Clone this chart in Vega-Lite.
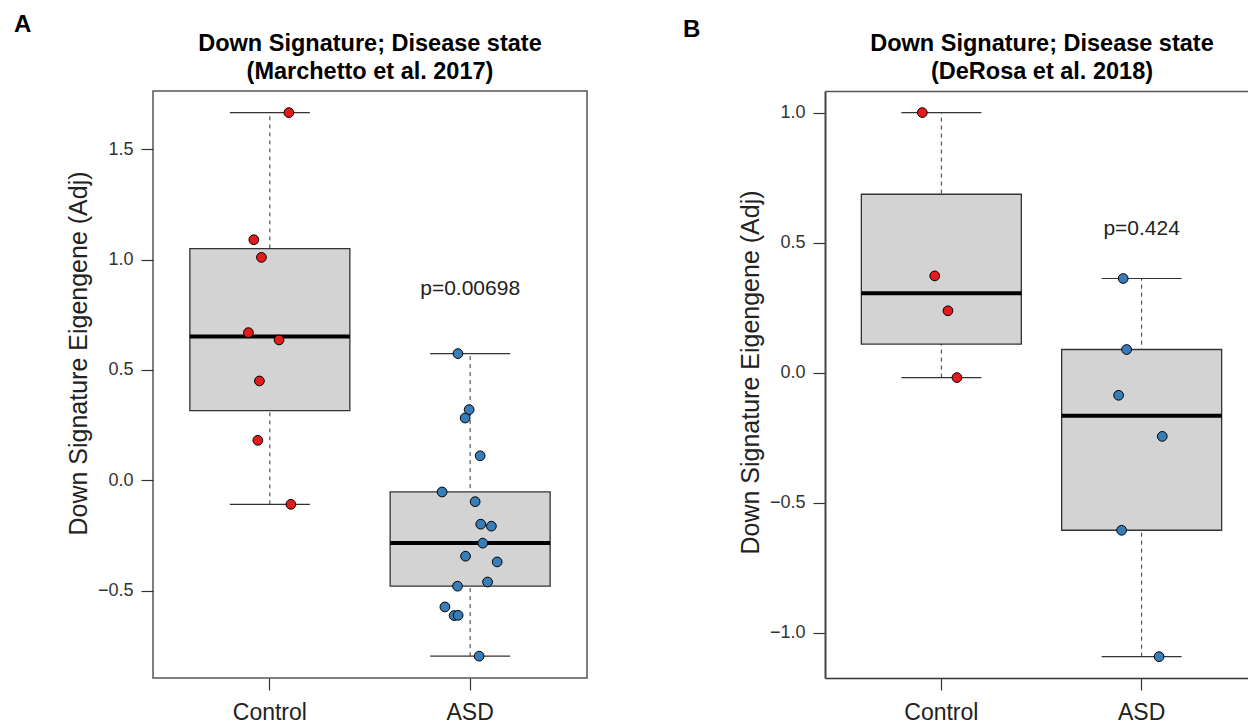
{
  "$schema": "https://vega.github.io/schema/vega-lite/v6.json",
  "background": "white",
  "padding": {"left": 14, "top": 12, "right": 0, "bottom": 0},
  "config": {
    "font": "Liberation Sans",
    "view": {"stroke": "#555", "strokeWidth": 1.5},
    "axis": {"grid": false, "labelFont": "Liberation Sans", "titleFont": "Liberation Sans", "labelColor": "#333", "titleColor": "#222", "tickColor": "#333", "domainColor": "#333", "titleFontWeight": "normal"},
    "title": {"font": "Liberation Sans", "fontWeight": "bold", "color": "#000"}
  },
  "datasets": {
    "a_pts": [
      {"group": "Control", "value": 1.666, "jitter": 0.095},
      {"group": "Control", "value": 1.090, "jitter": -0.080},
      {"group": "Control", "value": 1.010, "jitter": -0.042},
      {"group": "Control", "value": 0.669, "jitter": -0.107},
      {"group": "Control", "value": 0.636, "jitter": 0.046},
      {"group": "Control", "value": 0.450, "jitter": -0.052},
      {"group": "Control", "value": 0.181, "jitter": -0.060},
      {"group": "Control", "value": -0.109, "jitter": 0.105},
      {"group": "ASD", "value": 0.574, "jitter": -0.061},
      {"group": "ASD", "value": 0.320, "jitter": -0.005},
      {"group": "ASD", "value": 0.282, "jitter": -0.025},
      {"group": "ASD", "value": 0.111, "jitter": 0.050},
      {"group": "ASD", "value": -0.053, "jitter": -0.140},
      {"group": "ASD", "value": -0.097, "jitter": 0.025},
      {"group": "ASD", "value": -0.199, "jitter": 0.053},
      {"group": "ASD", "value": -0.208, "jitter": 0.106},
      {"group": "ASD", "value": -0.285, "jitter": 0.063},
      {"group": "ASD", "value": -0.344, "jitter": -0.023},
      {"group": "ASD", "value": -0.370, "jitter": 0.135},
      {"group": "ASD", "value": -0.461, "jitter": 0.087},
      {"group": "ASD", "value": -0.480, "jitter": -0.063},
      {"group": "ASD", "value": -0.574, "jitter": -0.126},
      {"group": "ASD", "value": -0.613, "jitter": -0.080},
      {"group": "ASD", "value": -0.612, "jitter": -0.060},
      {"group": "ASD", "value": -0.797, "jitter": 0.045}
    ],
    "a_box": [
      {"group": "Control", "lower": -0.109, "q1": 0.316, "median": 0.652, "q3": 1.05, "upper": 1.666},
      {"group": "ASD", "lower": -0.797, "q1": -0.480, "median": -0.284, "q3": -0.053, "upper": 0.574}
    ],
    "a_p": [{"group": "ASD", "value": 0.867, "label": "p=0.00698"}],
    "b_pts": [
      {"group": "Control", "value": 1.0, "jitter": -0.095},
      {"group": "Control", "value": 0.372, "jitter": -0.033},
      {"group": "Control", "value": 0.238, "jitter": 0.033},
      {"group": "Control", "value": -0.019, "jitter": 0.078},
      {"group": "ASD", "value": 0.362, "jitter": -0.092},
      {"group": "ASD", "value": 0.089, "jitter": -0.075},
      {"group": "ASD", "value": -0.087, "jitter": -0.115},
      {"group": "ASD", "value": -0.245, "jitter": 0.103},
      {"group": "ASD", "value": -0.606, "jitter": -0.100},
      {"group": "ASD", "value": -1.092, "jitter": 0.087}
    ],
    "b_box": [
      {"group": "Control", "lower": -0.019, "q1": 0.11, "median": 0.305, "q3": 0.686, "upper": 1.0},
      {"group": "ASD", "lower": -1.092, "q1": -0.606, "median": -0.166, "q3": 0.089, "upper": 0.362}
    ],
    "b_p": [{"group": "ASD", "value": 0.551, "label": "p=0.424"}]
  },
  "columns": 2,
  "align": "none",
  "spacing": 95,
  "concat": [
    {
      "title": {"text": "A", "anchor": "start", "frame": "group", "fontSize": 24, "offset": 0, "dx": -139, "dy": 6},
      "vconcat": [
        {
          "width": 434,
          "height": 587,
          "title": {"text": ["Down Signature; Disease state", "(Marchetto et al. 2017)"], "fontSize": 23.5, "lineHeight": 28, "frame": "group", "anchor": "middle", "offset": 12, "dy": 4},
          "encoding": {
            "x": {"field": "group", "type": "nominal", "title": null,
              "scale": {"domain": ["Control", "ASD"], "paddingInner": 0.2, "paddingOuter": 0.1834},
              "axis": {"title": null, "labelAngle": 0, "labelFontSize": 23, "labelPadding": 11, "tickSize": 12, "tickWidth": 1.2, "domain": false, "bandPosition": 0.5, "labelColor": "#222"}}
          },
          "layer": [
            {
              "data": {"name": "a_box"},
              "mark": {"type": "rule", "strokeDash": [4, 4], "color": "#333", "strokeWidth": 1, "opacity": 1},
              "encoding": {
                "y": {"field": "lower", "type": "quantitative", "title": "Down Signature Eigengene (Adj)",
                  "scale": {"domain": [-0.896, 1.764], "nice": false, "zero": false},
                  "axis": {"values": [-0.5, 0, 0.5, 1, 1.5], "format": ".1f", "labelFontSize": 18, "labelPadding": 8, "tickSize": 12, "tickWidth": 1.2, "domain": false, "titleFontSize": 25, "titlePadding": 6, "titleY": 262}},
                "y2": {"field": "upper"}
              }
            },
            {
              "data": {"name": "a_box"},
              "mark": {"type": "bar", "fill": "#D3D3D3", "stroke": "#333", "strokeWidth": 1.3, "opacity": 1, "width": 160},
              "encoding": {
                "y": {"field": "q1", "type": "quantitative", "title": "Down Signature Eigengene (Adj)"},
                "y2": {"field": "q3"}
              }
            },
            {
              "data": {"name": "a_box"},
              "transform": [{"fold": ["lower", "upper"], "as": ["stat", "whisker"]}],
              "mark": {"type": "tick", "size": 80, "thickness": 1.2, "color": "#333", "opacity": 1},
              "encoding": {
                "y": {"field": "whisker", "type": "quantitative", "title": "Down Signature Eigengene (Adj)"}
              }
            },
            {
              "data": {"name": "a_box"},
              "mark": {"type": "tick", "size": 160, "thickness": 4, "color": "#000", "opacity": 1},
              "encoding": {
                "y": {"field": "median", "type": "quantitative", "title": "Down Signature Eigengene (Adj)"}
              }
            },
            {
              "data": {"name": "a_pts"},
              "mark": {"type": "circle", "size": 95, "stroke": "#000", "strokeWidth": 1, "opacity": 1},
              "encoding": {
                "xOffset": {"field": "jitter", "type": "quantitative", "scale": {"domain": [-0.4, 0.4]}},
                "y": {"field": "value", "type": "quantitative", "title": "Down Signature Eigengene (Adj)"},
                "fill": {"field": "group", "type": "nominal", "scale": {"domain": ["Control", "ASD"], "range": ["#E41A1C", "#377EB8"]}, "legend": null}
              }
            },
            {
              "data": {"name": "a_p"},
              "mark": {"type": "text", "fontSize": 21, "color": "#222", "baseline": "middle", "font": "Liberation Sans"},
              "encoding": {
                "y": {"field": "value", "type": "quantitative", "title": "Down Signature Eigengene (Adj)"},
                "text": {"field": "label"}
              }
            }
          ]
        }
      ]
    },
    {
      "title": {"text": "B", "anchor": "start", "frame": "group", "fontSize": 24, "offset": 0, "dx": -142, "dy": 10},
      "vconcat": [
        {
          "width": 423,
          "height": 587,
          "view": {"stroke": null},
          "title": {"text": ["Down Signature; Disease state", "(DeRosa et al. 2018)"], "fontSize": 23.5, "lineHeight": 28, "frame": "group", "anchor": "middle", "offset": 4, "dx": 5.5, "dy": -4},
          "resolve": {"axis": {"x": "independent"}},
          "layer": [
            {
              "data": {"name": "b_box"},
              "mark": {"type": "rule", "strokeDash": [4, 4], "color": "#333", "strokeWidth": 1, "opacity": 1},
              "encoding": {
                "x": {"field": "group", "type": "nominal", "title": null,
                  "scale": {"domain": ["Control", "ASD"], "paddingInner": 0.2, "paddingOuter": 0.1559, "align": 0.58},
                  "axis": {"title": null, "labelAngle": 0, "labelFontSize": 23, "labelPadding": 11, "tickSize": 12, "tickWidth": 1.2, "domain": true, "domainWidth": 1.5, "domainColor": "#333", "bandPosition": 0.5, "labelColor": "#222"}},
                "y": {"field": "lower", "type": "quantitative", "title": "Down Signature Eigengene (Adj)",
                  "scale": {"domain": [-1.174, 1.083], "nice": false, "zero": false},
                  "axis": {"values": [-1, -0.5, 0, 0.5, 1], "format": ".1f", "labelFontSize": 18, "labelPadding": 8, "tickSize": 12, "tickWidth": 1.2, "domain": true, "domainWidth": 2, "domainColor": "#444", "titleFontSize": 25, "titlePadding": 6, "titleY": 281}},
                "y2": {"field": "upper"}
              }
            },
            {
              "data": {"name": "b_box"},
              "mark": {"type": "bar", "fill": "#D3D3D3", "stroke": "#333", "strokeWidth": 1.3, "opacity": 1, "width": 160},
              "encoding": {
                "x": {"field": "group", "type": "nominal", "title": null,
                  "axis": {"orient": "top", "title": null, "labels": false, "ticks": false, "domain": true, "domainWidth": 1.5, "domainColor": "#555"}},
                "y": {"field": "q1", "type": "quantitative", "title": "Down Signature Eigengene (Adj)"},
                "y2": {"field": "q3"}
              }
            },
            {
              "data": {"name": "b_box"},
              "transform": [{"fold": ["lower", "upper"], "as": ["stat", "whisker"]}],
              "mark": {"type": "tick", "size": 80, "thickness": 1.2, "color": "#333", "opacity": 1},
              "encoding": {
                "x": {"field": "group", "type": "nominal", "axis": null},
                "y": {"field": "whisker", "type": "quantitative", "title": "Down Signature Eigengene (Adj)"}
              }
            },
            {
              "data": {"name": "b_box"},
              "mark": {"type": "tick", "size": 160, "thickness": 4, "color": "#000", "opacity": 1},
              "encoding": {
                "x": {"field": "group", "type": "nominal", "axis": null},
                "y": {"field": "median", "type": "quantitative", "title": "Down Signature Eigengene (Adj)"}
              }
            },
            {
              "data": {"name": "b_pts"},
              "mark": {"type": "circle", "size": 95, "stroke": "#000", "strokeWidth": 1, "opacity": 1},
              "encoding": {
                "x": {"field": "group", "type": "nominal", "axis": null},
                "xOffset": {"field": "jitter", "type": "quantitative", "scale": {"domain": [-0.4, 0.4]}},
                "y": {"field": "value", "type": "quantitative", "title": "Down Signature Eigengene (Adj)"},
                "fill": {"field": "group", "type": "nominal", "scale": {"domain": ["Control", "ASD"], "range": ["#E41A1C", "#377EB8"]}, "legend": null}
              }
            },
            {
              "data": {"name": "b_p"},
              "mark": {"type": "text", "fontSize": 21, "color": "#222", "baseline": "middle", "font": "Liberation Sans"},
              "encoding": {
                "x": {"field": "group", "type": "nominal", "axis": null},
                "y": {"field": "value", "type": "quantitative", "title": "Down Signature Eigengene (Adj)"},
                "text": {"field": "label"}
              }
            }
          ]
        }
      ]
    }
  ]
}
